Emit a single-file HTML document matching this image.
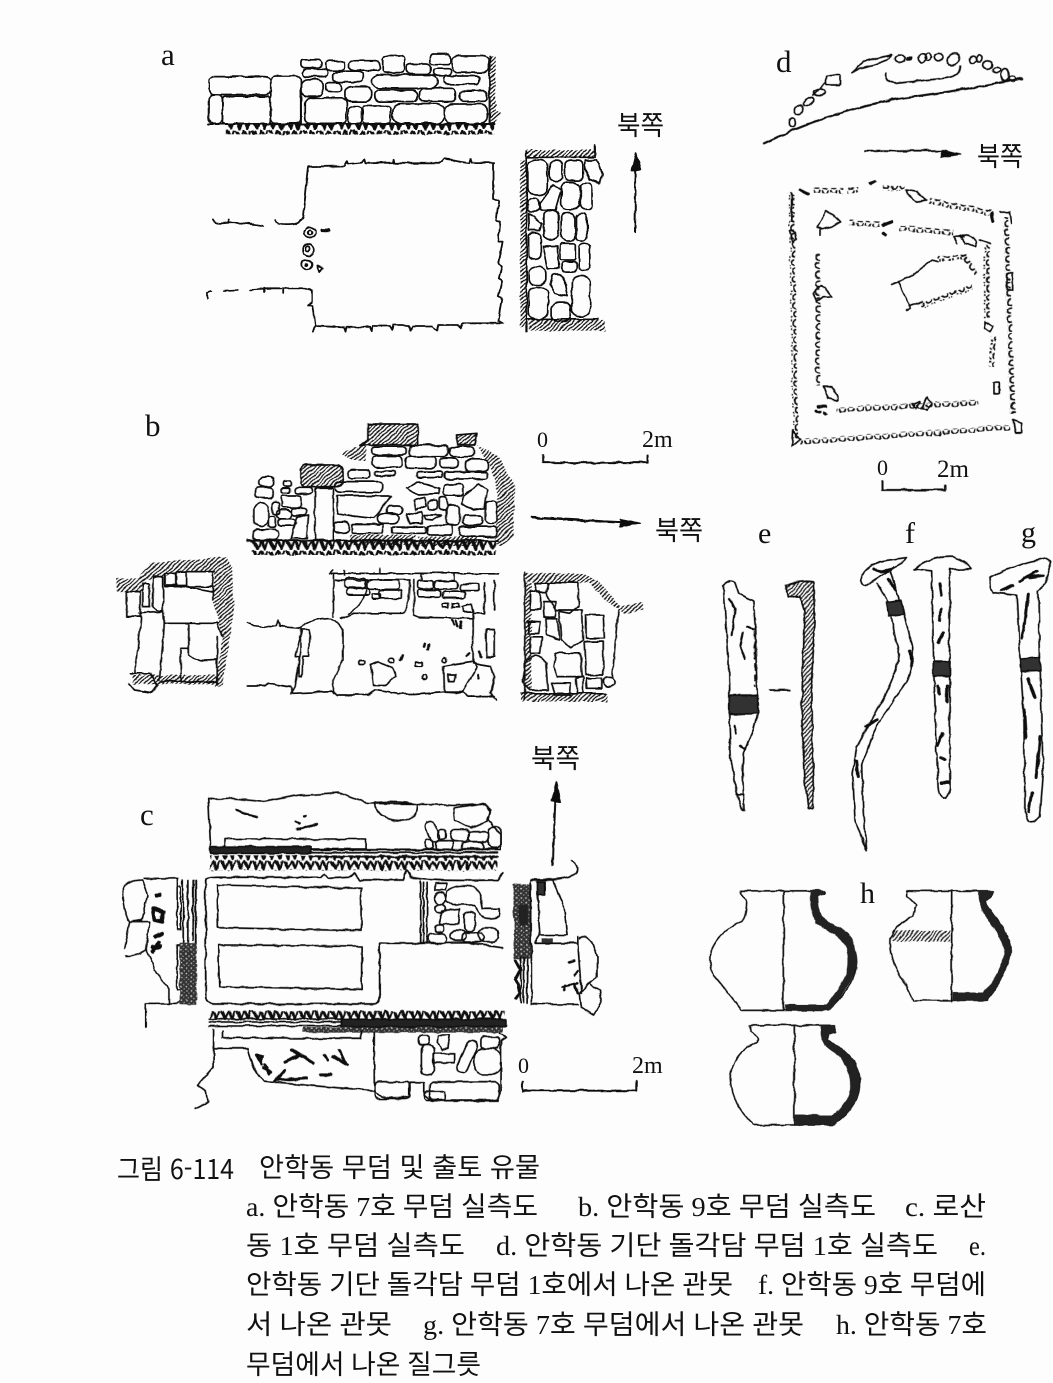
<!DOCTYPE html>
<html lang="ko"><head><meta charset="utf-8"><title>그림 6-114</title>
<style>
html,body{margin:0;padding:0;background:#fdfdfd}
svg{display:block}
.l path,.l rect,.l ellipse,.l line,.l polygon{vector-effect:non-scaling-stroke}
.l{fill:none;stroke:#111;stroke-width:1.7;stroke-linejoin:round;stroke-linecap:round}
.s{font-family:"Liberation Serif",serif;fill:#111}
.k{font-family:"Liberation Serif","Noto Sans CJK KR",sans-serif;fill:#111;font-size:27px}
.n{font-family:"Noto Sans CJK KR",sans-serif;fill:#111;font-size:27px}
</style></head><body>
<svg xmlns="http://www.w3.org/2000/svg" width="1053" height="1383" viewBox="0 0 1053 1383">
<defs>
<filter id="w" filterUnits="userSpaceOnUse" x="0" y="0" width="1053" height="1140"><feTurbulence type="fractalNoise" baseFrequency="0.09" numOctaves="2" seed="4"/><feDisplacementMap in="SourceGraphic" scale="3.5" xChannelSelector="R" yChannelSelector="G"/></filter>
<pattern id="h" patternUnits="userSpaceOnUse" width="12" height="12"><path d="M-3 15L15 -3M-3 3L3 -3M9 15L15 9" stroke="#111" stroke-width="3.5" fill="none"/></pattern>
<pattern id="x" patternUnits="userSpaceOnUse" width="44" height="30"><path d="M2 2L14 28L24 2L34 28L42 2M8 4L16 26M28 4L36 26" stroke="#111" stroke-width="5.5" fill="none"/></pattern>
<pattern id="d" patternUnits="userSpaceOnUse" width="14" height="14"><rect width="14" height="14" fill="#333"/><rect x="2" y="2" width="4" height="4" fill="#ddd"/><rect x="9" y="9" width="3" height="3" fill="#ccc"/></pattern>
<pattern id="u" patternUnits="userSpaceOnUse" width="26" height="16"><path d="M2 2q0 12 9 12t9-12" stroke="#111" stroke-width="5" fill="none"/></pattern>
</defs>
<rect width="1053" height="1383" fill="#fdfdfd"/>
<g filter="url(#w)">

<!-- A -->
<g class="l" transform="translate(100,30) scale(.3827,.3333)">
<rect x="285" y="140" width="160" height="55" rx="15"/><rect x="285" y="195" width="35" height="85" rx="14"/><rect x="320" y="200" width="125" height="82" rx="8"/><rect x="445" y="138" width="80" height="142" rx="14"/><rect x="525" y="148" width="58" height="52" rx="18"/><rect x="535" y="205" width="110" height="75" rx="14"/>
<rect x="525" y="88" width="55" height="25" rx="10"/><rect x="530" y="118" width="65" height="22" rx="10"/><rect x="590" y="92" width="50" height="30" rx="10"/><rect x="608" y="125" width="80" height="30" rx="12"/><rect x="652" y="92" width="80" height="30" rx="10"/><rect x="740" y="78" width="55" height="50" rx="10"/><rect x="800" y="102" width="65" height="30" rx="12"/><rect x="862" y="72" width="55" height="32" rx="10"/><rect x="920" y="78" width="95" height="50" rx="15"/><rect x="872" y="116" width="45" height="20" rx="8"/>
<rect x="712" y="135" width="170" height="40" rx="18"/><rect x="898" y="138" width="92" height="25" rx="8"/><rect x="590" y="158" width="40" height="28" rx="8"/><rect x="640" y="170" width="70" height="45" rx="18"/><rect x="718" y="180" width="112" height="35" rx="15"/><rect x="835" y="175" width="95" height="40" rx="15"/><rect x="940" y="182" width="72" height="32" rx="10"/>
<rect x="650" y="230" width="32" height="52" rx="10"/><rect x="685" y="228" width="75" height="52" rx="10"/><rect x="765" y="222" width="135" height="58" rx="22"/><rect x="900" y="222" width="112" height="58" rx="20"/>
<path d="M525 200V280M285 282H1030M1018 80V280" stroke-width="2"/>
<rect x="330" y="285" width="700" height="28" fill="url(#x)" stroke="none"/>
<path d="M1018 80L1034 78V240L1048 250L1030 282H1018Z" fill="url(#h)" stroke="none"/>
<path d="M295 570Q300 585 335 578V568M335 578Q380 578 428 588M458 572Q460 585 500 582Q525 580 530 560L545 410L640 408L645 392L648 402L685 398L692 388L695 400L768 398L770 388L772 400L885 400L900 386L965 398L968 384L972 398H1030L1027 400V505L1042 512L1035 570L1045 575L1040 635L1052 635L1042 700L1050 710L1042 745L1052 752L1042 800L1050 805L1040 872L1055 880L945 880L940 895L935 885L885 885L880 900L870 888L815 888L812 902L805 885L765 885L762 902L755 888L712 888L710 905L705 892L645 892L643 905L638 892L562 888L555 905M562 888L555 825L542 825L555 815V785Q550 775 540 775L480 775V788M475 775H430V788" stroke-width="1.8"/>
<path d="M428 778L290 785" stroke-dasharray="14 12"/><path d="M290 785L282 788V805"/>
<ellipse cx="549" cy="608" rx="14" ry="16"/><ellipse cx="549" cy="608" rx="5" ry="7"/><ellipse cx="546" cy="660" rx="14" ry="18"/><ellipse cx="544" cy="656" rx="5" ry="7"/><ellipse cx="540" cy="704" rx="14" ry="14"/><ellipse cx="540" cy="704" rx="3" ry="3" fill="#111"/>
<path d="M580 602H600" stroke-width="3"/><path d="M568 708L582 714L574 728Z"/>
<rect x="1115" y="360" width="180" height="22" fill="url(#h)" stroke="none"/><path d="M1115 382H1295V345M1115 365V905"/>
<rect x="1098" y="390" width="17" height="500" fill="url(#h)" stroke="none"/>
<rect x="1120" y="870" width="200" height="32" fill="url(#h)" stroke="none"/>
<path d="M1118 868H1300"/>
<rect x="1118" y="390" width="52" height="105" rx="22"/><rect x="1175" y="392" width="32" height="60" rx="14"/><rect x="1215" y="392" width="48" height="60" rx="14"/><path d="M1268 390H1298L1312 430L1305 460L1280 450L1268 420Z"/>
<path d="M1150 520L1185 465L1205 480L1190 540H1150Z"/><rect x="1205" y="458" width="48" height="80" rx="16"/><rect x="1255" y="460" width="32" height="78" rx="12"/><rect x="1118" y="505" width="30" height="40" rx="12"/>
<rect x="1160" y="540" width="38" height="90" rx="18"/><rect x="1205" y="548" width="36" height="85" rx="16"/><rect x="1245" y="550" width="28" height="82" rx="13"/><path d="M1120 548L1155 580L1150 600H1122Z"/><rect x="1120" y="608" width="32" height="80" rx="14"/>
<path d="M1158 648H1195L1198 715H1170Z"/><rect x="1202" y="640" width="40" height="50" rx="6"/><rect x="1252" y="640" width="28" height="80" rx="13"/><rect x="1205" y="695" width="42" height="30" rx="12"/>
<rect x="1120" y="712" width="45" height="52" rx="18"/><path d="M1182 735Q1205 725 1215 750L1222 800L1190 790L1175 765Z"/><rect x="1233" y="738" width="48" height="122" rx="22"/>
<rect x="1120" y="772" width="50" height="95" rx="22"/><rect x="1180" y="815" width="50" height="60" rx="20"/>
<path d="M1398 605L1400 400" stroke-width="2"/><polygon points="1390,420 1401,368 1412,420" fill="#111"/>
</g>

<!-- B -->
<g class="l" transform="translate(100,410) scale(.3827,.3333)">
<path d="M700 42H830V105H680L700 90Z" fill="url(#h)"/><path d="M630 130L695 100V150H650Z" fill="url(#h)" stroke="none"/><path d="M930 75L985 70L980 105H935Z" fill="url(#h)"/>
<path d="M985 105L1040 140L1085 230L1080 380L1045 410L1030 400L1040 250L1020 170Z" fill="url(#h)" stroke="none"/>
<rect x="525" y="165" width="110" height="65" rx="15" fill="url(#h)"/>
<rect x="710" y="110" width="90" height="25" rx="8"/><rect x="808" y="105" width="100" height="35" rx="10"/><rect x="912" y="110" width="65" height="30" rx="10"/><rect x="712" y="138" width="78" height="35" rx="12"/><rect x="800" y="140" width="78" height="35" rx="12"/><rect x="888" y="145" width="48" height="28" rx="10"/><rect x="955" y="148" width="60" height="35" rx="12"/>
<rect x="648" y="180" width="58" height="25" rx="10"/><rect x="718" y="185" width="55" height="13" rx="6"/><rect x="830" y="185" width="65" height="18" rx="6"/><rect x="900" y="185" width="112" height="22" rx="6"/>
<rect x="615" y="215" width="125" height="32" rx="14"/><path d="M800 235L830 215L885 235V252L830 255Z"/><rect x="898" y="222" width="50" height="35" rx="10"/><path d="M950 255L990 222L1012 240L1005 295L975 300L945 280Z"/>
<path d="M620 258H760L740 290L715 325L660 318L622 310Z"/><rect x="750" y="288" width="40" height="25" rx="10"/><path d="M820 270L850 262L855 285L825 300Z"/><rect x="860" y="270" width="20" height="30" rx="8"/><rect x="885" y="260" width="22" height="40" rx="8"/>
<rect x="725" y="310" width="55" height="30" rx="14"/><path d="M800 315L840 305L842 340H810Z"/><path d="M845 315L892 315L870 330L850 328Z"/><rect x="905" y="285" width="35" height="60" rx="10"/><rect x="948" y="315" width="52" height="30" rx="10"/><rect x="1008" y="275" width="28" height="65" rx="10"/>
<rect x="612" y="335" width="38" height="35" rx="12"/><rect x="658" y="342" width="80" height="28" rx="5"/><rect x="762" y="350" width="90" height="20" rx="5"/><rect x="855" y="345" width="65" height="30" rx="8"/><rect x="940" y="350" width="95" height="30" rx="8"/>
<rect x="562" y="235" width="48" height="155"/>
<rect x="415" y="200" width="40" height="30" rx="12"/><rect x="405" y="232" width="50" height="32" rx="12"/><rect x="478" y="212" width="22" height="18" rx="7"/><rect x="472" y="235" width="25" height="15" rx="5"/><rect x="475" y="258" width="50" height="35" rx="6"/><rect x="510" y="232" width="45" height="20" rx="8"/>
<rect x="402" y="280" width="38" height="68" rx="18"/><rect x="440" y="320" width="18" height="32" rx="8"/><rect x="450" y="275" width="18" height="40" rx="8"/><rect x="460" y="300" width="40" height="25" rx="12"/><rect x="500" y="295" width="38" height="20" rx="8"/><rect x="465" y="325" width="48" height="22" rx="10"/><path d="M515 320L545 315L540 385H500Z"/><rect x="400" y="358" width="68" height="32" rx="14"/>
<path d="M385 392H1040" stroke-width="2"/><rect x="395" y="393" width="640" height="42" fill="url(#x)" stroke="none"/>
<rect x="652" y="375" width="170" height="30" fill="url(#h)" stroke="none"/><rect x="830" y="380" width="155" height="28" fill="url(#h)" stroke="none"/>
<path d="M1130 323L1370 338" stroke-width="2.5"/><polygon points="1360,328 1410,340 1360,352" fill="#111"/>
<path d="M1158 135V158H1432V135" stroke-width="2"/>
<!-- left -->
<path d="M40 505L100 505L130 460L330 440L345 470L350 600L320 830L300 830L320 680L295 570L300 485L225 485L120 510L110 545L45 545Z" fill="url(#h)" stroke="none"/>
<path d="M300 485H225L225 530L295 545M295 570V485M170 640H310M170 530H295M100 610L165 605L168 640M70 545H105V620H70ZM140 500H165V600Q150 605 138 590ZM170 490H198V525H170ZM200 485H225V525H200ZM112 520H130V590H112ZM108 620L92 790M168 620Q170 640 155 810M232 645V735Q240 755 305 748M210 715H232M210 715L212 815H305M160 815H210M305 640L320 680M305 825V680M80 790H130L150 825L135 848L90 840L75 820"/>
<rect x="85" y="795" width="225" height="28" fill="url(#h)" stroke="none"/>
<!-- middle -->
<path d="M605 490H1040M600 490L608 480M640 480V495M730 475V490M840 490V510M925 490V510M820 510V615L835 622L975 625M610 490V620M615 510H810Q810 600 790 610H660L630 628M640 510L700 510Q700 570 650 610" stroke-width="1.6"/>
<rect x="640" y="505" width="55" height="28" rx="8"/><rect x="700" y="510" width="82" height="28" rx="8"/><rect x="645" y="535" width="60" height="22" rx="8"/><rect x="712" y="552" width="22" height="14" rx="2"/><rect x="730" y="540" width="60" height="25" rx="5"/><rect x="830" y="512" width="42" height="24" rx="6"/><rect x="875" y="512" width="58" height="25" rx="6"/><rect x="940" y="522" width="50" height="20" rx="6"/><rect x="830" y="540" width="60" height="22" rx="6"/><rect x="895" y="545" width="60" height="20" rx="6"/>
<path d="M1005 520V610H975V760M1030 510V600M1010 660H1030V740H1010ZM945 590L970 582L975 605H950ZM895 580H910V592H895ZM920 580H937V592H920Z"/>
<path d="M385 638Q400 650 460 650L465 632L470 650L525 655L540 640Q570 622 605 625L620 640L635 660L635 750L610 810V850M525 655V720L510 830L500 850M528 660H548L545 740H530L528 800H520L520 740H510Z" stroke-width="1.6"/>
<path d="M385 828H430L440 820L500 830L505 850L610 845L620 855H700L720 840L780 852H820L900 845H945L960 860L1030 860M975 760L1020 770L1030 800L1020 850L1035 870"/>
<path d="M898 770L975 755L985 770L945 848L900 845Z"/><path d="M910 795H930L925 815H912Z"/>
<path d="M705 765L730 755L765 775L775 800L745 825H715L712 795Z"/><rect x="675" y="750" width="17" height="12" rx="4"/><rect x="755" y="745" width="15" height="14" rx="5"/><rect x="822" y="757" width="20" height="12" rx="2"/><ellipse cx="848" cy="800" rx="6" ry="7"/><ellipse cx="900" cy="750" rx="5" ry="7"/>
<path d="M920 630L925 645M930 632L935 650M945 635L942 655M790 735L785 750M850 700L848 710M860 705L858 718M958 738L966 733M992 725L995 740M988 795L990 805" stroke-width="2.5"/>
<!-- right -->
<path d="M1110 490H1260L1300 510L1360 590L1420 575L1420 600L1370 612L1355 600L1320 570L1280 520L1260 520L1115 515Z" fill="url(#h)" stroke="none"/>
<rect x="1112" y="518" width="15" height="320" fill="url(#h)" stroke="none"/><rect x="1100" y="850" width="225" height="25" fill="url(#h)" stroke="none"/>
<path d="M1110 490V870M1355 600L1340 800M1100 850H1320"/>
<path d="M1135 518H1172L1165 548H1142ZM1175 518L1250 520L1250 590L1225 610L1190 600L1165 548M1158 575H1190V620H1160ZM1125 545H1150V600H1125ZM1120 635H1150L1145 672H1120ZM1165 625H1195L1200 690L1168 672ZM1200 600L1260 600L1262 690L1230 715L1205 690ZM1270 615H1315L1318 685H1270ZM1125 682H1155L1150 730H1125ZM1265 695H1315V795H1270ZM1190 730H1255L1260 800H1195L1185 770ZM1115 750Q1145 720 1165 760L1170 840H1120L1105 810ZM1180 820H1230L1228 855H1190ZM1245 805L1262 800V850H1248ZM1270 805H1310V835H1272Z"/>
<ellipse cx="1330" cy="816" rx="16" ry="14"/>
</g>

<!-- C -->
<g class="l" transform="translate(110,780) scale(.3571,.3333)">
<path d="M275 55Q300 60 340 55L430 65L530 45L640 38L720 70L860 72L960 78L1040 72L1065 90L1060 120L1095 165L1095 210H282Z"/>
<path d="M742 68Q800 62 860 72Q870 115 815 122Q745 120 742 68Z"/><path d="M962 85L1045 72L1065 95L1055 125L1010 145L965 120Z"/>
<rect x="322" y="177" width="395" height="30"/>
<path d="M355 88L375 100L412 110M520 125L530 130M525 148L578 132" stroke-width="2.5"/><path d="M543 108L547 108" stroke-width="3"/>
<rect x="890" y="125" width="28" height="60" rx="13" transform="rotate(-20 904 155)"/><rect x="918" y="150" width="22" height="28" rx="10"/><rect x="882" y="180" width="22" height="28" rx="10"/><rect x="912" y="182" width="48" height="28" rx="8"/><rect x="952" y="150" width="55" height="32" rx="14"/><rect x="1005" y="155" width="55" height="30" rx="12"/><rect x="1060" y="140" width="35" height="65" rx="15"/><rect x="985" y="185" width="60" height="25" rx="10"/>
<rect x="282" y="200" width="280" height="20" fill="#222"/><path d="M560 208H1085M560 218H1085M560 230H1085"/><rect x="280" y="226" width="805" height="46" fill="url(#x)" stroke="none"/>
<path d="M268 300Q270 292 300 292L590 292L600 282L610 295L670 292L685 282L700 300L820 300L830 270L840 290Q870 305 1085 300L1100 280M268 300V650Q270 670 290 672H740Q755 670 755 640V490H870L1000 488L1100 502" stroke-width="1.8"/>
<path d="M300 315L703 325V452L302 443Z"/><path d="M303 495L706 498V628L306 620Z"/>
<path d="M870 305V490M878 310V490M888 310V490"/>
<path d="M910 310H945L940 330H910ZM945 335Q960 310 1020 320Q1040 340 1045 385L1090 385V410Q1050 425 1035 400L1020 375L960 375L940 360Z"/><ellipse cx="925" cy="355" rx="16" ry="18"/><ellipse cx="925" cy="385" rx="14" ry="12"/><path d="M930 393L980 388L975 432L920 432Z"/><rect x="992" y="395" width="30" height="60" rx="14"/><rect x="910" y="435" width="24" height="22" rx="8"/><rect x="892" y="462" width="50" height="28" rx="12"/><rect x="955" y="452" width="42" height="30" rx="14"/><rect x="985" y="458" width="60" height="28" rx="12"/><rect x="1030" y="445" width="58" height="40" rx="18"/>
<!-- left c -->
<path d="M95 295H190V320H198V450H188V320M35 340Q40 300 90 300L105 345L90 420L55 425Q38 400 35 340ZM40 505L55 425H110L100 510L130 580L165 625V670H100V740M165 670H190L200 660M45 528Q80 528 100 510" stroke-width="1.6"/>
<path d="M188 495H198V630H188Z"/><path d="M205 300V490M218 300V490" /><path d="M240 300V490M232 300V480" stroke-width="2"/>
<rect x="195" y="488" width="48" height="185" fill="url(#d)" stroke="none"/>
<path d="M120 385L150 395L145 425L125 420ZM130 345L140 345M125 470L145 460M120 500L140 500M120 515L135 490" stroke-width="4"/>
<!-- right c -->
<rect x="1130" y="310" width="48" height="225" fill="url(#d)" stroke="none"/><rect x="1145" y="375" width="25" height="60" fill="#222" stroke="none"/>
<path d="M1135 540L1150 570L1135 600L1150 640L1135 655" stroke-width="3"/>
<path d="M1150 530V668M1158 530V668M1168 530V668M1178 305V490M1180 490V672H1310M1180 300H1240M1240 300L1272 385L1280 465H1205L1198 350V305M1205 465L1190 490H1310V470M1310 490L1320 640"/>
<rect x="1197" y="305" width="20" height="40" fill="#333"/><rect x="1210" y="475" width="30" height="13" fill="#333" stroke="none"/>
<path d="M1315 475Q1330 458 1350 485L1365 530V590L1340 610L1372 630L1375 660L1355 705L1320 680L1315 640L1340 610"/>
<path d="M1180 298Q1265 302 1298 285Q1320 265 1295 242" />
<path d="M1265 620L1310 610M1272 615V630M1300 585L1310 575M1285 545L1300 540M1300 610L1310 640" stroke-width="2.5"/>
<!-- arrow -->
<path d="M1240 255L1247 60" stroke-width="2"/><polygon points="1236,64 1250,8 1262,64" fill="#111"/>
<!-- scale -->
<path d="M1155 905V932H1475V900" stroke-width="2"/>
<!-- lower -->
<rect x="280" y="692" width="825" height="30" fill="url(#x)" stroke="none"/>
<path d="M278 716H650M278 726H650M278 738H650"/><rect x="648" y="718" width="462" height="22" fill="#222"/>
<rect x="540" y="742" width="560" height="16" fill="url(#d)" stroke="none"/>
<path d="M290 748V805H385Q395 860 430 905L740 932Q760 965 838 950V910H880V945L900 962H1085L1095 935V780L1110 770L1090 760"/>
<path d="M290 805V860L245 915L270 935L275 965L240 985" />
<path d="M315 752V775H703V752"/><path d="M740 758V932"/>
<rect x="740" y="905" width="100" height="52" rx="14"/><rect x="895" y="905" width="195" height="55" rx="14"/><rect x="880" y="935" width="60" height="25" rx="8"/>
<rect x="865" y="765" width="30" height="30" rx="12"/><rect x="872" y="795" width="35" height="90" rx="14"/><path d="M920 765H950L945 800L930 810L918 790Z"/><rect x="985" y="780" width="30" height="100" rx="14" transform="rotate(22 1000 830)"/><rect x="905" y="820" width="60" height="28"/><rect x="1020" y="805" width="75" height="80" rx="28"/><rect x="1040" y="770" width="50" height="35" rx="10"/>
<path d="M415 830L425 855M430 865L450 875M490 845L530 825M510 810L570 850M600 825L610 840M625 830L665 855M640 810L660 850M460 905L490 870M470 900L550 895M590 885L620 885" stroke-width="3"/>
<path d="M410 825L428 830L422 850ZM435 855L445 880" stroke-width="3" fill="#222"/>
</g>

<!-- D -->
<g class="l" transform="translate(700,40) scale(.3333)">
<path d="M192 310Q400 210 600 175Q800 150 965 115" stroke-width="2.2"/>
<rect x="378" y="105" width="42" height="30" rx="3"/><ellipse cx="360" cy="157" rx="18" ry="10"/><ellipse cx="325" cy="185" rx="20" ry="9" transform="rotate(-30 325 185)"/><ellipse cx="295" cy="210" rx="12" ry="14"/><ellipse cx="277" cy="248" rx="9" ry="14"/><path d="M340 165L375 130"/>
<path d="M455 98L490 65L530 55L575 45L560 60L520 75L480 85Z"/><ellipse cx="600" cy="56" rx="16" ry="11"/><rect x="622" y="52" width="14" height="6" fill="#111"/><ellipse cx="668" cy="55" rx="12" ry="14"/><ellipse cx="685" cy="50" rx="8" ry="12"/><ellipse cx="716" cy="52" rx="13" ry="12"/><ellipse cx="760" cy="58" rx="20" ry="16" transform="rotate(-40 760 58)"/><ellipse cx="820" cy="57" rx="10" ry="10"/><ellipse cx="838" cy="56" rx="8" ry="10"/><ellipse cx="862" cy="76" rx="14" ry="12"/><ellipse cx="890" cy="90" rx="12" ry="8"/><ellipse cx="915" cy="105" rx="12" ry="18"/><ellipse cx="937" cy="115" rx="10" ry="8"/>
<path d="M555 98Q555 130 590 130L730 115Q780 110 780 80"/>
<path d="M495 332H735" stroke-width="1.8"/><polygon points="725,330 780,342 725,352" fill="#111"/>
<path d="M546 1325V1350H735V1335" stroke-width="2"/>
<g stroke="none">
<rect x="340" y="444" width="90" height="16" fill="url(#u)" /><rect x="445" y="442" width="30" height="16" fill="url(#u)"/><rect x="550" y="436" width="65" height="16" fill="url(#u)"/>
<rect x="690" y="475" width="185" height="16" fill="url(#u)" transform="rotate(11 690 475)"/>
<rect x="925" y="530" width="590" height="16" fill="url(#u)" transform="rotate(88 925 530)"/>
<rect x="300" y="1198" width="630" height="16" fill="url(#u)" transform="rotate(-4 300 1198)"/>
<rect x="268" y="470" width="740" height="16" fill="url(#u)" transform="rotate(89 282 470)"/>
<rect x="450" y="540" width="90" height="16" fill="url(#u)" transform="rotate(3 450 540)"/><rect x="600" y="556" width="160" height="16" fill="url(#u)" transform="rotate(5 600 556)"/>
<rect x="868" y="615" width="220" height="16" fill="url(#u)" transform="rotate(90 868 615)"/><rect x="890" y="890" width="90" height="16" fill="url(#u)" transform="rotate(95 890 890)"/>
<rect x="410" y="1102" width="425" height="16" fill="url(#u)" transform="rotate(-3 410 1102)"/>
<rect x="362" y="640" width="395" height="16" fill="url(#u)" transform="rotate(90 362 640)"/>
<rect x="715" y="650" width="85" height="16" fill="url(#u)" transform="rotate(-5 715 650)"/><rect x="660" y="790" width="165" height="16" fill="url(#u)" transform="rotate(-20 660 790)"/>
<rect x="795" y="640" width="70" height="16" fill="url(#u)" transform="rotate(55 795 640)"/>
</g>
<path d="M575 735L600 725L640 705L695 660L715 665M595 725L632 805L620 810M632 795L665 785"/>
<path d="M350 560L380 515L400 525L420 545L395 560L365 568ZM360 565V585M620 450L650 455L680 480L650 485L625 465ZM780 590Q810 575 830 605L825 620L795 610ZM340 760L365 735L395 770H370L350 785ZM370 1040H395L412 1065V1082L385 1075ZM635 1095L660 1085L650 1105ZM680 1070L695 1090L680 1112L665 1105ZM855 845L880 860L870 875L855 865ZM882 1025H898V1060H882ZM920 700H938V750H920ZM938 1140L965 1150V1178H945ZM278 1170L300 1200L275 1220ZM270 570Q290 570 290 600L278 605Z"/>
<path d="M275 460V545M900 515H930L935 550M790 590L760 590L770 610M840 600L870 610" />
<path d="M355 1100L380 1100M372 1120L375 1122M348 1112L360 1115M510 430L525 425M550 555L575 545M548 580L555 585M875 520L880 545M300 450L325 462" stroke-width="3"/>
</g>

<!-- E F G H -->
<g class="l" transform="translate(700,520) scale(.3333,.3954)">
<path d="M70 165Q90 150 105 160L115 185L160 205L165 260L170 400L172 445V490L160 530L130 590L128 640L132 735L125 730L110 690L92 600L88 490V440L85 350Z"/>
<rect x="88" y="443" width="85" height="47" fill="#333"/>
<path d="M90 200L105 225L95 290M128 285L120 320L135 350M140 270L160 275M110 540L105 520M120 570L135 580" stroke-width="2.2"/>
<path d="M165 280V420" stroke-dasharray="6 5"/><path d="M110 695L132 695"/>
<path d="M258 165Q300 150 340 155L345 260L335 400L340 690L338 730L325 728L315 660L305 500L310 300L315 230L300 195L265 195Z" fill="url(#h)"/>
<path d="M209 430H270"/>
<path d="M482 150Q500 105 580 100L618 95Q610 110 570 125L500 165Q485 170 482 150Z"/>
<path d="M530 160L565 210L598 340Q590 400 530 480L470 575L458 640L465 760L500 835M570 130L612 240L638 320Q640 380 620 410L530 520L485 620L490 740L500 835"/>
<polygon points="558,210 603,203 612,238 567,243" fill="#333"/>
<path d="M520 125L545 130L570 125M565 150L585 175M630 330L635 370M500 520L530 505M470 610L475 650" stroke-width="3"/>
<path d="M642 125Q690 90 760 93Q800 105 815 123L750 125L748 180L750 680Q740 705 730 703Q715 700 714 670L702 400L695 130Z"/>
<rect x="700" y="357" width="50" height="38" fill="#333"/>
<path d="M720 160L725 190M722 225L720 255M730 285L715 310M712 420L720 440M742 420L740 460M728 540L715 570M722 600L735 605M725 665H748" stroke-width="3"/>
<path d="M870 145Q950 110 1040 97L1055 105L1035 160L1015 180L1020 350L1025 520L1030 640L1020 750Q1000 770 985 760L975 740L972 500L960 350L950 190L880 185L872 170Z"/>
<polygon points="960,352 1020,347 1023,380 963,382" fill="#333"/>
<path d="M960 155L1010 130M990 145L1030 140M905 178L940 165M985 190L975 260L965 300M985 400L1005 450M972 480L978 550M1020 550L1010 650M995 690L985 740" stroke-width="3"/>
<path d="M122 938H372V945L340 948L345 985Q355 1005 400 1025Q470 1060 470 1120Q465 1180 385 1240H125Q80 1190 40 1150Q25 1120 35 1085Q60 1040 125 1015Q140 1005 140 960L120 945Z" stroke-width="1.6"/>
<path d="M250 938V1240"/>
<path d="M330 938H372V945L355 952Q355 985 365 1005Q410 1025 445 1045Q475 1085 470 1125Q460 1170 390 1240H255V1225L375 1225Q420 1185 440 1145Q450 1100 435 1075Q400 1040 345 1020Q330 985 330 960Z" fill="#222" stroke="none"/>
<path d="M620 938H880L875 950L855 965Q870 985 900 1020Q935 1065 932 1095Q920 1150 860 1215H640L620 1180Q565 1120 570 1060Q590 1020 640 1000L650 975L620 950Z" stroke-width="1.6"/>
<path d="M755 938V1218"/>
<path d="M836 938H880L875 950L855 965Q870 985 900 1020Q935 1065 932 1095Q920 1150 860 1215H758V1195H850Q890 1155 910 1110Q918 1085 895 1050Q860 1010 845 985Q836 965 836 950Z" fill="#222" stroke="none"/>
<rect x="575" y="1038" width="175" height="28" fill="url(#h)" stroke="none"/>
<path d="M148 1278H405V1295L385 1300L380 1315Q440 1340 465 1375Q490 1420 470 1465Q440 1510 395 1530H160Q95 1480 92 1410Q100 1350 150 1330Q190 1315 170 1305L150 1295Z" stroke-width="1.6"/>
<path d="M283 1278V1530"/>
<path d="M362 1278H405V1295L385 1300L380 1315Q440 1340 465 1375Q490 1420 470 1465Q440 1510 395 1530H285V1505H395Q440 1480 450 1440Q455 1385 410 1350Q370 1330 362 1310Z" fill="#222" stroke="none"/>
</g>
</g>

<!-- labels -->
<g class="s">
<text x="161" y="65" font-size="31">a</text><text x="145" y="436" font-size="31">b</text><text x="140" y="825" font-size="31">c</text><text x="776" y="72" font-size="31">d</text>
<text x="758" y="543" font-size="30">e</text><text x="905" y="543" font-size="30">f</text><text x="1021" y="542" font-size="30">g</text><text x="860" y="903" font-size="30">h</text>
<text x="537" y="447" font-size="22">0</text><text x="642" y="447" font-size="24">2m</text>
<text x="518" y="1073" font-size="22">0</text><text x="632" y="1073" font-size="24">2m</text>
<text x="877" y="475" font-size="22">0</text><text x="937" y="477" font-size="25">2m</text>
</g>
<g class="n">
<text x="617" y="135" textLength="47" lengthAdjust="spacingAndGlyphs">북쪽</text>
<text x="655" y="540" textLength="48" lengthAdjust="spacingAndGlyphs">북쪽</text>
<text x="531" y="768" textLength="49" lengthAdjust="spacingAndGlyphs">북쪽</text>
<text x="977" y="166" textLength="46" lengthAdjust="spacingAndGlyphs">북쪽</text>
<text x="117" y="1179" font-size="27" textLength="117" lengthAdjust="spacingAndGlyphs">그림 6-114</text>
<text x="259" y="1177" textLength="281" lengthAdjust="spacingAndGlyphs">안학동 무덤 및 출토 유물</text>
</g>
<g class="k">
<text x="246" y="1216" textLength="292" lengthAdjust="spacingAndGlyphs">a. 안학동 7호 무덤 실측도</text>
<text x="578" y="1216" textLength="298" lengthAdjust="spacingAndGlyphs">b. 안학동 9호 무덤 실측도</text>
<text x="905" y="1216" textLength="81" lengthAdjust="spacingAndGlyphs">c. 로산</text>
<text x="246" y="1255" textLength="219" lengthAdjust="spacingAndGlyphs">동 1호 무덤 실측도</text>
<text x="496" y="1255" textLength="442" lengthAdjust="spacingAndGlyphs">d. 안학동 기단 돌각담 무덤 1호 실측도</text>
<text x="969" y="1255" textLength="17" lengthAdjust="spacingAndGlyphs">e.</text>
<text x="246" y="1294" textLength="487" lengthAdjust="spacingAndGlyphs">안학동 기단 돌각담 무덤 1호에서 나온 관못</text>
<text x="758" y="1294" textLength="228" lengthAdjust="spacingAndGlyphs">f. 안학동 9호 무덤에</text>
<text x="246" y="1334" textLength="146" lengthAdjust="spacingAndGlyphs">서 나온 관못</text>
<text x="423" y="1334" textLength="381" lengthAdjust="spacingAndGlyphs">g. 안학동 7호 무덤에서 나온 관못</text>
<text x="836" y="1334" textLength="151" lengthAdjust="spacingAndGlyphs">h. 안학동 7호</text>
<text x="246" y="1374" textLength="235" lengthAdjust="spacingAndGlyphs">무덤에서 나온 질그릇</text>
</g>
</svg>
</body></html>
